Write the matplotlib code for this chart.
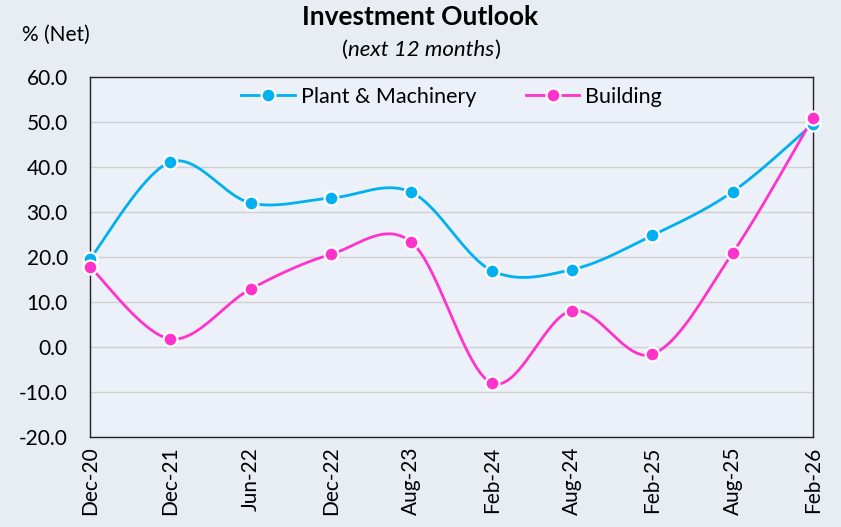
import numpy as np
import matplotlib
matplotlib.use("Agg")
import matplotlib.pyplot as plt
from matplotlib.lines import Line2D

categories = ["Dec-20", "Dec-21", "Jun-22", "Dec-22", "Aug-23", "Feb-24",
              "Aug-24", "Feb-25", "Aug-25", "Feb-26"]
plant = [19.6, 41.1, 32.0, 33.1, 34.4, 17.0, 17.2, 24.8, 34.5, 49.6]
building = [17.8, 1.8, 12.9, 20.6, 23.3, -8.0, 8.1, -1.6, 20.9, 50.9]
yticks = [-20, -10, 0, 10, 20, 30, 40, 50, 60]

FONT = "Lato"
plt.rcParams["font.family"] = [FONT, "DejaVu Sans"]


def smooth(xs, ys, n=40):
    """Excel-style smoothed line (Bezier through the points)."""
    xs = np.asarray(xs, float)
    ys = np.asarray(ys, float)
    px = np.concatenate([[xs[0]], xs, [xs[-1]]])
    py = np.concatenate([[ys[0]], ys, [ys[-1]]])
    outx, outy = [], []
    t = np.linspace(0, 1, n)
    for i in range(1, len(px) - 2):
        p0, p1, p2, p3 = (np.array([px[j], py[j]]) for j in (i - 1, i, i + 1, i + 2))
        c1 = p1 + (p2 - p0) / 6
        c2 = p2 - (p3 - p1) / 6
        b = ((1 - t) ** 3)[:, None] * p1 + (3 * (1 - t) ** 2 * t)[:, None] * c1 \
            + (3 * (1 - t) * t ** 2)[:, None] * c2 + (t ** 3)[:, None] * p2
        outx.extend(b[:, 0])
        outy.extend(b[:, 1])
    return np.array(outx), np.array(outy)


BLUE = "#00B0F0"
PINK = "#FF33CC"
FS = 15

fig = plt.figure(figsize=(8.41, 5.27), dpi=100)
fig.patch.set_facecolor("#E8EDF4")
ax = fig.add_axes([90 / 841, 1 - 437 / 527, (813 - 90) / 841, (437 - 77) / 527])
ax.set_facecolor("#ECF0F9")

x = np.arange(len(categories))
for vals, col in [(plant, BLUE), (building, PINK)]:
    sx, sy = smooth(x, vals)
    ax.plot(sx, sy, color=col, lw=2.0, zorder=3, solid_capstyle="round")
    ax.plot(x, vals, linestyle="none", marker="o", markersize=10,
            markerfacecolor=col, markeredgecolor="white", markeredgewidth=1.6,
            zorder=4, clip_on=False)

ax.set_xlim(0, len(categories) - 1)
ax.set_ylim(-20, 60)
ax.set_yticks(yticks)
ax.set_yticklabels([f"{v:.1f}" for v in yticks], fontsize=FS)
ax.set_xticks(x)
ax.set_xticklabels(categories, rotation=90, fontsize=FS)
ax.tick_params(axis="y", length=0, pad=16, colors="black")
ax.tick_params(axis="x", length=0, pad=7, colors="black")
ax.grid(axis="y", color="#D0D0D0", lw=1)
ax.set_axisbelow(True)
for s in ax.spines.values():
    s.set_color("#222222")
    s.set_linewidth(1.0)

handles = [Line2D([], [], color=c, lw=2, marker="o", markersize=10,
                  markerfacecolor=c, markeredgecolor="white", markeredgewidth=1.6)
           for c in (BLUE, PINK)]
ax.legend(handles, ["Plant & Machinery", "Building"], loc="center",
          bbox_to_anchor=(0.5, 1 - (97 - 77) / 360), ncol=2, frameon=False, fontsize=15.5,
          handlelength=2.5, handletextpad=0.25, columnspacing=2.3,
          borderpad=0, borderaxespad=0)

fig.text(420 / 841, 1 - 17 / 527, "Investment Outlook", ha="center", va="center",
         fontsize=19, fontweight="bold")
fig.text(22 / 841, 1 - 35 / 527, "% (Net)", ha="left", va="center", fontsize=FS)

# subtitle with italic middle part
fig.canvas.draw()
r = fig.canvas.get_renderer()
parts = [("(", "normal"), ("next 12 months", "italic"), (")", "normal")]
ts = [fig.text(0, 1 - 50 / 527, s, style=st, fontsize=16, va="center") for s, st in parts]
widths = [t.get_window_extent(r).width for t in ts]
total = sum(widths)
xstart = 421 - total / 2
for t, w in zip(ts, widths):
    t.set_x(xstart / 841)
    xstart += w

fig.savefig("out.png", dpi=100, facecolor=fig.get_facecolor())
